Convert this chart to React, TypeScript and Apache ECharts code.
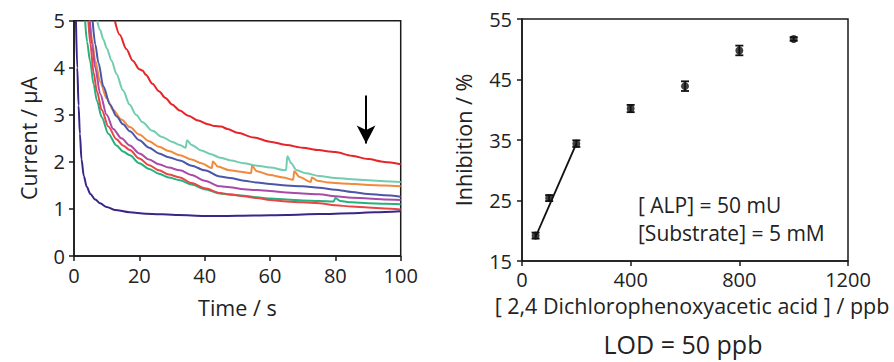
import React, { useEffect, useRef } from "react";
import * as echarts from "echarts";

// ---------- Left panel: chronoamperometry curves (time s, current µA) ----------
const redTop: number[][] = [
  [12.5, 5], [14, 4.7], [16, 4.4], [18, 4.15], [20, 3.97], [21, 3.94], [22, 3.85], [24, 3.66],
  [26, 3.5], [28, 3.36], [30, 3.22], [32.4, 3.09], [35, 2.98], [38, 2.88], [41, 2.8], [43, 2.76],
  [45, 2.75], [47, 2.7], [50, 2.62], [55, 2.52], [60, 2.43], [65, 2.36], [70, 2.3], [75, 2.25],
  [78, 2.22], [80, 2.21], [85, 2.13], [90, 2.06], [95, 2.0], [100, 1.95],
];
const tealCurve: number[][] = [
  [7.1, 5], [8, 4.8], [9, 4.6], [10, 4.42], [11.5, 4.15], [13, 3.87], [15, 3.52], [17, 3.22],
  [19, 3.0], [21, 2.84], [24, 2.66], [27, 2.53], [30, 2.43], [32.4, 2.36], [34.2, 2.3],
  [34.6, 2.46], [36, 2.36], [39, 2.24], [42, 2.16], [44.7, 2.09], [48, 2.03], [52, 1.97],
  [56, 1.92], [60, 1.88], [64.9, 1.82], [65.3, 2.12], [66.5, 1.97], [68, 1.83], [71, 1.76],
  [75, 1.7], [80, 1.66], [85, 1.63], [90, 1.61], [95, 1.59], [100, 1.57],
];
const orangeCurve: number[][] = [
  [4.9, 5], [5.5, 4.6], [6.5, 4.15], [8, 3.7], [10, 3.35], [12, 3.1], [14.5, 2.9], [17.1, 2.74],
  [20, 2.58], [23, 2.44], [26, 2.32], [29, 2.23], [32.4, 2.14], [36, 2.05], [39, 1.97],
  [42.2, 1.87], [42.5, 2.01], [44, 1.9], [47.7, 1.82], [51, 1.79], [54.2, 1.76], [54.5, 1.91],
  [56, 1.8], [60, 1.72], [64, 1.67], [67.1, 1.62], [67.4, 1.8], [69, 1.68], [72.5, 1.57],
  [72.8, 1.67], [74.5, 1.6], [78, 1.56], [82, 1.54], [86, 1.53], [90, 1.51], [95, 1.5], [100, 1.48],
];
const blueCurve: number[][] = [
  [5.7, 5], [6.5, 4.5], [7.5, 4.1], [9, 3.6], [11, 3.22], [13, 2.97], [15, 2.8], [17.1, 2.65],
  [20, 2.46], [23, 2.3], [26, 2.18], [29, 2.1], [32.4, 2.03], [36, 1.92], [40, 1.82], [44.7, 1.69],
  [47.7, 1.66], [52, 1.6], [56, 1.56], [60, 1.53], [65, 1.5], [70, 1.48], [75, 1.45], [80, 1.41],
  [85, 1.36], [90, 1.32], [95, 1.29], [100, 1.26],
];
const magentaCurve: number[][] = [
  [4.8, 5], [5.5, 4.5], [6.5, 4.0], [8, 3.45], [10, 3.0], [12, 2.7], [14.5, 2.5], [17.1, 2.35],
  [20, 2.18], [23, 2.05], [26, 1.95], [29, 1.88], [32.4, 1.82], [36, 1.72], [40, 1.6], [44.7, 1.48],
  [47.7, 1.46], [52, 1.42], [56, 1.4], [60, 1.38], [65, 1.35], [70, 1.33], [75, 1.31], [80, 1.27],
  [85, 1.24], [90, 1.22], [95, 1.2], [100, 1.19],
];
const redLow: number[][] = [
  [4.4, 5], [5, 4.5], [6, 3.9], [7, 3.5], [8.5, 3.1], [10.5, 2.75], [13, 2.48], [15, 2.35],
  [17.1, 2.25], [20, 2.07], [23, 1.93], [26, 1.82], [29, 1.73], [32.4, 1.67], [36, 1.55], [40, 1.44],
  [44.7, 1.34], [47.7, 1.31], [52, 1.27], [56, 1.23], [60, 1.19], [65, 1.16], [70, 1.14], [75, 1.12],
  [80, 1.08], [85, 1.05], [90, 1.03], [95, 1.01], [100, 0.99],
];
const greenCurve: number[][] = [
  [3.4, 5], [4, 4.55], [4.9, 4.15], [6, 3.65], [7, 3.3], [8.5, 2.95], [10.5, 2.6], [13, 2.35],
  [15, 2.22], [17.1, 2.14], [20, 1.97], [23, 1.85], [26, 1.75], [29, 1.67], [32.4, 1.61], [36, 1.52],
  [40, 1.42], [44.7, 1.33], [47.7, 1.3], [52, 1.28], [56, 1.25], [60, 1.22], [65, 1.2], [70, 1.18],
  [75, 1.17], [79.5, 1.16], [80, 1.23], [81.5, 1.17], [85, 1.14], [90, 1.12], [95, 1.11], [100, 1.1],
];
const purpleCurve: number[][] = [
  [0.6, 5], [1, 4.0], [1.4, 3.2], [1.8, 2.6], [2.3, 2.05], [3, 1.7], [3.9, 1.47], [5, 1.32],
  [6.5, 1.2], [8, 1.12], [10, 1.04], [12.5, 0.98], [17, 0.93], [22, 0.9], [32, 0.87], [40, 0.85],
  [45, 0.85], [55, 0.86], [65, 0.87], [75, 0.89], [85, 0.91], [92, 0.93], [100, 0.95],
];
const curveList = [
  { data: redTop, color: "#e5252a" },
  { data: tealCurve, color: "#72ccb0" },
  { data: orangeCurve, color: "#f08a3c" },
  { data: blueCurve, color: "#4a56a8" },
  { data: magentaCurve, color: "#a84aa8" },
  { data: greenCurve, color: "#27b07f" },
  { data: redLow, color: "#ea4545" },
  { data: purpleCurve, color: "#3b2687" },
];
const arrowTime = 89.4;
const arrowFrom = 3.41;
const arrowTo = 2.39;

// ---------- Right panel: inhibition vs concentration ----------
const concPpb = [50, 100, 200, 400, 600, 800, 1000];
const inhibition = [19.2, 25.4, 34.4, 40.2, 43.9, 49.8, 51.7];
const inhibitionErr = [0.5, 0.5, 0.55, 0.6, 0.8, 0.8, 0.3];
const fitX = [50, 200];
const fitY = [19.0, 34.4];

const FONT = "'Open Sans', 'Noto Sans', sans-serif";
const AX = "#1a1a1a";
const TICK_FS = 20;
const NAME_FS = 21.5;

export default function App() {
  const ref = useRef<HTMLDivElement>(null);
  useEffect(() => {
    if (!ref.current) return;
    const chart = echarts.init(ref.current, undefined, { renderer: "svg" });
    const axisCommon = {
      axisLine: { show: true, onZero: false, lineStyle: { color: AX, width: 1.5 } },
      axisTick: { show: true, inside: false, length: 5, lineStyle: { color: AX, width: 1.5 } },
      axisLabel: { color: "#222", fontSize: TICK_FS, fontFamily: FONT, formatter: (v: number) => String(v) },
      splitLine: { show: false },
      nameLocation: "middle" as const,
      nameTextStyle: { color: "#222", fontSize: NAME_FS, fontFamily: FONT },
    };
    const lineSeries = curveList.map((c) => ({
      type: "line",
      xAxisIndex: 0,
      yAxisIndex: 0,
      data: c.data,
      showSymbol: false,
      symbol: "none",
      smooth: 0.3,
      smoothMonotone: "x",
      clip: true,
      lineStyle: { color: c.color, width: 2 },
      itemStyle: { color: c.color },
      silent: true,
    }));
    (lineSeries[0] as any).markLine = {
      silent: true,
      symbol: ["none", "arrow"],
      symbolSize: [14, 18],
      label: { show: false },
      lineStyle: { color: "#000", width: 2, type: "solid" },
      data: [[{ coord: [arrowTime, arrowFrom] }, { coord: [arrowTime, arrowTo] }]],
    };

    const option: any = {
      animation: false,
      grid: [
        { left: 74, top: 20.7, width: 326.7, height: 235.3, show: true, borderColor: AX, borderWidth: 1.5, backgroundColor: "transparent" },
        { left: 522, top: 19, width: 326, height: 242, show: true, borderColor: AX, borderWidth: 1.5, backgroundColor: "transparent" },
      ],
      xAxis: [
        {
          ...axisCommon,
          type: "value",
          gridIndex: 0,
          min: 0,
          max: 100,
          interval: 20,
          name: "Time / s",
          nameGap: 40,
          axisLabel: { ...axisCommon.axisLabel, margin: 9 },
        },
        {
          ...axisCommon,
          type: "value",
          gridIndex: 1,
          min: 0,
          max: 1200,
          interval: 400,
          name: "[ 2,4 Dichlorophenoxyacetic acid ] / ppb",
          nameGap: 33,
          nameTextStyle: { ...axisCommon.nameTextStyle, padding: [0, 0, 0, 14] },
          axisLabel: { ...axisCommon.axisLabel, margin: 8 },
        },
      ],
      yAxis: [
        {
          ...axisCommon,
          type: "value",
          gridIndex: 0,
          min: 0,
          max: 5,
          interval: 1,
          name: "Current / µA",
          nameGap: 35,
          axisLabel: { ...axisCommon.axisLabel, margin: 9 },
        },
        {
          ...axisCommon,
          type: "value",
          gridIndex: 1,
          min: 15,
          max: 55,
          interval: 10,
          name: "Inhibition / %",
          nameGap: 48,
          axisLabel: { ...axisCommon.axisLabel, margin: 10 },
        },
      ],
      series: [
        ...lineSeries,
        {
          type: "line",
          xAxisIndex: 1,
          yAxisIndex: 1,
          data: fitX.map((x, i) => [x, fitY[i]]),
          showSymbol: false,
          symbol: "none",
          lineStyle: { color: "#111", width: 1.8 },
          silent: true,
        },
        {
          type: "custom",
          xAxisIndex: 1,
          yAxisIndex: 1,
          data: concPpb.map((c, i) => [c, inhibition[i] - inhibitionErr[i], inhibition[i] + inhibitionErr[i]]),
          encode: { x: 0, y: [1, 2] },
          silent: true,
          z: 3,
          renderItem: (params: any, api: any) => {
            const x = api.value(0);
            const lo = api.coord([x, api.value(1)]);
            const hi = api.coord([x, api.value(2)]);
            const hw = 4;
            const st = { stroke: "#111", lineWidth: 1.8 };
            return {
              type: "group",
              children: [
                { type: "line", shape: { x1: hi[0], y1: hi[1], x2: lo[0], y2: lo[1] }, style: st },
                { type: "line", shape: { x1: hi[0] - hw, y1: hi[1], x2: hi[0] + hw, y2: hi[1] }, style: st },
                { type: "line", shape: { x1: lo[0] - hw, y1: lo[1], x2: lo[0] + hw, y2: lo[1] }, style: st },
              ],
            };
          },
        },
        {
          type: "scatter",
          xAxisIndex: 1,
          yAxisIndex: 1,
          data: concPpb.map((c, i) => [c, inhibition[i]]),
          symbol: "circle",
          symbolSize: 8,
          itemStyle: { color: "#111" },
          silent: true,
          z: 4,
        },
      ],
      graphic: [
        {
          type: "text",
          x: 638,
          y: 205,
          style: { text: "[ ALP] = 50 mU", fontSize: 21, fontFamily: FONT, fill: "#222", verticalAlign: "middle" },
        },
        {
          type: "text",
          x: 638,
          y: 233,
          style: { text: "[Substrate] = 5 mM", fontSize: 21, fontFamily: FONT, fill: "#222", verticalAlign: "middle" },
        },
        {
          type: "text",
          x: 683,
          y: 344,
          style: { text: "LOD = 50 ppb", fontSize: 25, fontFamily: FONT, fill: "#222", align: "center", verticalAlign: "middle" },
        },
      ],
    };
    chart.setOption(option);
    return () => chart.dispose();
  }, []);
  return (
    <div
      ref={ref}
      style={{ position: "fixed", left: 0, top: 0, width: 894, height: 362, background: "#fff" }}
    />
  );
}
